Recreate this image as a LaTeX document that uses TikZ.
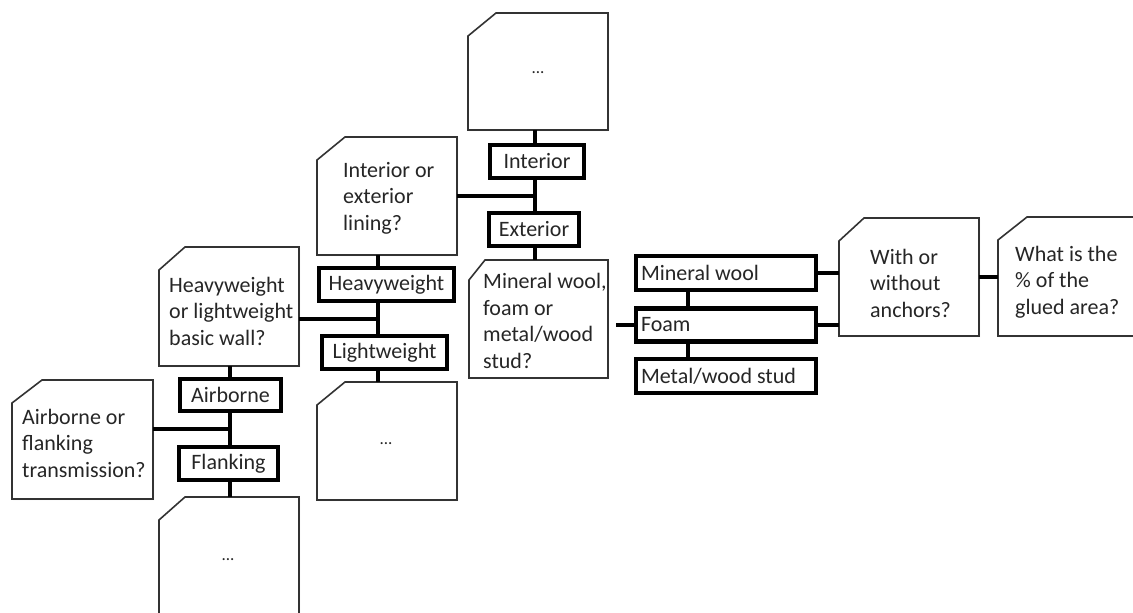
\documentclass[tikz,border=0pt]{standalone}
\usepackage{fontspec}
\setmainfont{Carlito}
\usetikzlibrary{calc,shadows}
\tikzset{
  cardline/.style={draw=black!80, line width=1.6pt, fill=white, line join=miter,
    drop shadow={opacity=0.18, shadow xshift=1.2pt, shadow yshift=-1.2pt}},
  cardtxt/.style={anchor=west, align=left, inner sep=0pt, text=black!85,
    font=\fontsize{22}{26.5}\selectfont},
  dots/.style={inner sep=0pt, text=black!85, font=\fontsize{17}{20}\selectfont},
  opt/.style={draw=black, line width=4.6pt, fill=white, inner sep=0pt, text=black!85,
    font=\fontsize{22}{26.5}\selectfont},
  optl/.style={opt, text width=170, align=flush left},
  conn/.style={line width=4pt, draw=black}
}
\newcommand\qcard[7]{%
  \node[inner sep=0pt, outer sep=0pt, minimum width={#4-#2}, minimum height={#5-#3}] (#1) at ({(#2+#4)/2},{(#3+#5)/2}) {};
  \draw[cardline] ($(#1.north west)+(0,#7)$) -- ($(#1.north west)+(#6,0)$) -- (#1.north east) -- (#1.south east) -- (#1.south west) -- cycle;
}
\begin{document}
\begin{tikzpicture}[x=1pt,y=-1pt]
\useasboundingbox (0,0) rectangle (1133,613);
% cards
\qcard{q1}{12}{380}{153}{499}{30}{23}
\qcard{d1}{159}{497}{299}{628}{26}{23}
\qcard{q3}{159}{247}{299}{366}{26}{23}
\qcard{d2}{317}{382}{457}{500}{28}{23}
\qcard{q5}{317}{137}{457}{255}{28}{23}
\qcard{d3}{468}{13}{608}{130}{28}{23}
\qcard{q7}{469}{260}{608}{378}{16}{20}
\qcard{q8}{839}{218}{979}{336}{25}{23}
\qcard{q9}{998}{217}{1150}{336}{29}{23}
% card texts
\node[cardtxt] (q1t) at (22,443) {Airborne or\\flanking\\transmission?};
\node[cardtxt] (q3t) at (169,311) {Heavyweight\\or lightweight\\basic wall?};
\node[cardtxt] (q5t) at (343,198) {Interior or\\exterior\\lining?};
\node[cardtxt] (q7t) at (483,321) {Mineral wool,\\foam or\\metal/wood\\stud?};
\node[cardtxt] (q8t) at (870,283) {With or\\without\\anchors?};
\node[cardtxt] (q9t) at (1015,282) {What is the\\\% of the\\glued area?};
\node[dots] (d1t) at (228,560) {...};
\node[dots] (d2t) at (386,444) {...};
\node[dots] (d3t) at (538,73) {...};
% option boxes
\node[opt, minimum width=101, minimum height=32] (air) at (230.5,395) {Airborne};
\node[opt, minimum width=99, minimum height=33] (flank) at (228.5,463.5) {Flanking};
\node[opt, minimum width=135, minimum height=33] (hw) at (386.5,284.5) {Heavyweight};
\node[opt, minimum width=125, minimum height=33] (lw) at (384.5,352.5) {Lightweight};
\node[opt, minimum width=94, minimum height=33] (int) at (537,161.5) {Interior};
\node[opt, minimum width=90, minimum height=33] (ext) at (534,229.5) {Exterior};
\node[optl, minimum width=180, minimum height=34] (mw) at (726,273) {Mineral wool};
\node[optl, minimum width=180, minimum height=33] (foam) at (726,325) {Foam};
\node[optl, minimum width=180, minimum height=34] (metal) at (726,376) {Metal/wood stud};
% column coordinates
\coordinate (c1) at (230,0);
\coordinate (c2) at (378,0);
\coordinate (c3) at (535,0);
\coordinate (c4) at (688,0);
\coordinate (j1) at ($(air.south)!0.5!(flank.north)$);
\coordinate (j2) at ($(hw.south)!0.5!(lw.north)$);
\coordinate (j3) at ($(int.south)!0.5!(ext.north)$);
\coordinate (g7) at ($(q7.east)+(8,0)$);
% connectors column 1
\draw[conn] (c1 |- q3.south) -- (c1 |- air.north);
\draw[conn] (c1 |- air.south) -- (c1 |- flank.north);
\draw[conn] (c1 |- flank.south) -- (c1 |- d1.north);
\draw[conn] (q1.east |- j1) -- (c1 |- j1);
% column 2
\draw[conn] (c2 |- q5.south) -- (c2 |- hw.north);
\draw[conn] (c2 |- hw.south) -- (c2 |- lw.north);
\draw[conn] (c2 |- lw.south) -- (c2 |- d2.north);
\draw[conn] (q3.east |- j2) -- (c2 |- j2);
% column 3
\draw[conn] (c3 |- d3.south) -- (c3 |- int.north);
\draw[conn] (c3 |- int.south) -- (c3 |- ext.north);
\draw[conn] (c3 |- ext.south) -- (c3 |- q7.north);
\draw[conn] (q5.east |- j3) -- (c3 |- j3);
% column 4
\draw[conn] (c4 |- mw.south) -- (c4 |- foam.north);
\draw[conn] (c4 |- foam.south) -- (c4 |- metal.north);
\draw[conn] (g7 |- foam.west) -- (foam.west);
\draw[conn] (mw.east) -- (q8.west |- mw.east);
\draw[conn] (foam.east) -- (q8.west |- foam.east);
\draw[conn] (q8.east) -- (q9.west |- q8.east);
\end{tikzpicture}
\end{document}
